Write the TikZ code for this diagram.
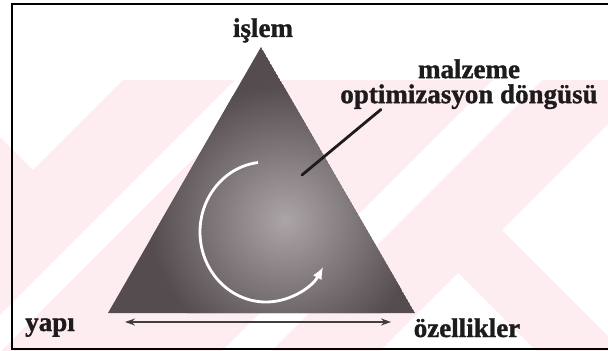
\documentclass[tikz,border=0pt]{standalone}
\usepackage{fontspec}
\setmainfont{Liberation Serif}[BoldFeatures={FakeBold=1.2}]
\usetikzlibrary{arrows.meta, calc}

\definecolor{wmpink}{RGB}{253,236,240}
\definecolor{tridark}{RGB}{84,76,78}
\definecolor{trilight}{RGB}{172,165,167}
\definecolor{inkgray}{RGB}{30,27,28}

\begin{document}
\begin{tikzpicture}[
    x=0.5pt, y=-0.5pt,
    >=Stealth,
    % Styles
    lbl/.style={font=\fontsize{13.5}{12.5}\selectfont\bfseries, text=inkgray, inner sep=0pt},
    frameline/.style={draw=black, line width=1pt},
    pointer/.style={draw=inkgray, line width=1.4pt, line cap=round},
    cycarrow/.style={draw=white, line width=1.4pt, -{Latex[length=6pt, width=5pt]}},
    axis/.style={draw=inkgray!85, line width=0.8pt, {Stealth[length=5pt, width=3.5pt]}-{Stealth[length=5pt, width=3.5pt]}}
]
\useasboundingbox (0,0) rectangle (608,351);

% 1. Watermark behind the figure
\begin{scope}
  \clip (0,80) rectangle (608,351);
  \fill[wmpink] (0,80) rectangle (608,351);
  \fill[white] (0,80) -- (123,80) -- (33,170) -- (0,137) -- cycle;
  \fill[white] (235,80) -- (272,80) -- (1,351) -- (-36,351) -- cycle;
  \fill[white] (493,80) -- (542,80) -- (271,351) -- (222,351) -- cycle;
  \fill[white] (502,230) -- (608,124) -- (608,336) -- cycle;
  \fill[white] (458,273) -- (536,351) -- (380,351) -- cycle;
\end{scope}

% 2. Frame
\draw[frameline] (608,4) -- (12,4) -- (12,349) -- (608,349);

% 3. Triangle
\coordinate (apex) at (261,47);
\coordinate (bl) at (108,313);
\coordinate (br) at (415,313);
\begin{scope}
  \clip (apex) -- (bl) -- (br) -- cycle;
  \fill[tridark] (apex) -- (bl) -- (br) -- cycle;
  \shade[inner color=trilight, outer color=tridark] (285,220) circle (135);
\end{scope}

% 4. Optimisation loop
\coordinate (loopc) at (266,232);
\draw[cycarrow] ($(loopc)+(263:66 and 70)$) arc[start angle=263, end angle=30, x radius=66, y radius=70];

% 5. Labels
\node[lbl, anchor=base] (islem) at (263,37) {işlem};
\node[lbl, align=center, anchor=north] (dongu) at (469,59) {malzeme\\optimizasyon döngüsü};
\node[lbl, anchor=base] (yapi) at (50,331) {yapı};
\node[lbl, anchor=base] (ozellik) at (467,337) {özellikler};

% 6. Pointer and base arrow
\coordinate (ptr) at (302,175);
\draw[pointer] ($(dongu.south west)+(41,0)$) -- (ptr);

\coordinate (axl) at (125,322);
\coordinate (axr) at (391,322);
\draw[axis] (axl) -- (axr);

\end{tikzpicture}
\end{document}
